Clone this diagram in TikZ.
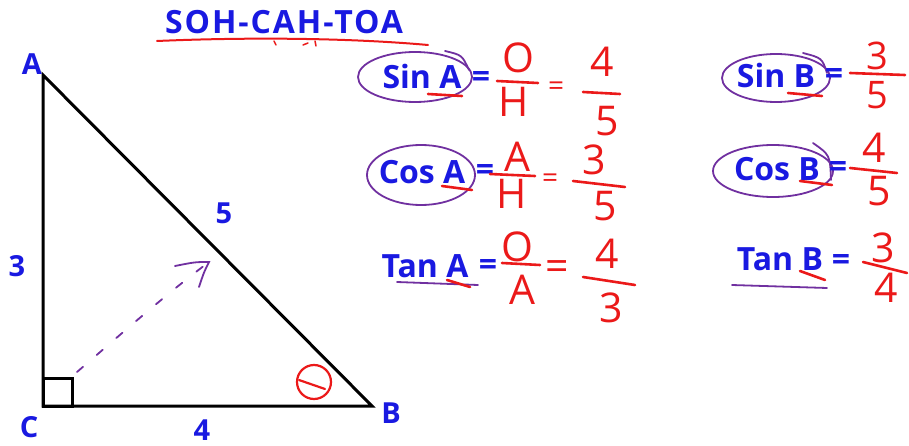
\documentclass[tikz,border=0pt]{standalone}
\usepackage{fontspec}
\setmainfont{Open Sans}
\usetikzlibrary{arrows.meta}
\definecolor{inkblue}{RGB}{25,25,225}
\definecolor{inkred}{RGB}{235,25,25}
\definecolor{inkpurple}{RGB}{112,48,160}
\tikzset{
  bluetxt/.style={text=inkblue, inner sep=0pt, font=\bfseries\fontsize{32}{32}\selectfont},
  vertex/.style={text=inkblue, inner sep=0pt, font=\bfseries\fontsize{29}{29}\selectfont},
  hand/.style={text=inkred, inner sep=0pt, font=\fontsize{41}{41}\selectfont},
  handeq/.style={text=inkred, inner sep=0pt, font=\fontsize{28}{28}\selectfont},
  redline/.style={draw=inkred, line width=2.6pt, line cap=round},
  ring/.style={draw=inkpurple, line width=1.8pt, line cap=round}
}

\begin{document}
\begin{tikzpicture}[x=1pt, y=-1pt]
  \useasboundingbox (0,0) rectangle (909,446);

  % title
  \node[bluetxt] (title) at (284,22) {\addfontfeature{LetterSpace=6}SOH-CAH-TOA};
  \draw[redline, line width=2pt] (157,41) .. controls (250,37) and (350,38) .. (428,45);
  \draw[redline, line width=1.5pt] (274,41) -- (276,45);
  \draw[redline, line width=1.5pt] (303,45) -- (308,43);
  \draw[redline, line width=1.5pt] (315,41) -- (316,46);

  % the triangle
  \coordinate (A) at (43,75);
  \coordinate (C) at (43,406);
  \coordinate (B) at (372,406);
  \draw[line width=3pt, line join=miter] (A) -- (C) -- (B) -- cycle;
  \draw[line width=3pt] (C) rectangle ++(29,-28);
  \node[vertex] (labA) at (32,64) {A};
  \node[vertex] (labC) at (29,427) {C};
  \node[vertex] (labB) at (391,413) {B};
  \node[vertex] (side3) at (17,266) {3};
  \node[vertex] (side4) at (202,430) {4};
  \node[vertex] (side5) at (224,213) {5};

  % dashed arrow towards the hypotenuse
  \coordinate (dashstart) at (77,372);
  \coordinate (dashtip) at (209,262);
  \draw[inkpurple, line width=1.8pt, line cap=round, dash pattern=on 8pt off 18pt]
    (dashstart) .. controls (120,335) and (165,295) .. (dashtip);
  \draw[ring] (175,266) .. controls (195,262) .. (dashtip) .. controls (204,272) .. (199,287);

  % angle theta at B
  \draw[redline, line width=2.2pt] (314,382) circle [radius=17];
  \draw[redline, line width=2.2pt] (299,380) -- (325,389);

  % sin A
  \node[bluetxt] (sinA) at (422,77) {Sin A};
  \draw[ring] (415,77) ellipse [x radius=57, y radius=25];
  \draw[ring] (445,51) .. controls (462,55) .. (469,70);
  \draw[redline] (428,94) -- (462,96);
  \node[bluetxt] (sinAeq) at (481,80) {=};
  \node[hand] (sinAo) at (518,58) {O};
  \draw[redline] (497,81) -- (538,83);
  \node[hand] (sinAh) at (514,102) {H};
  \node[handeq] (sinAeq2) at (556,89) {=};
  \node[hand] (sinA4) at (602,62) {4};
  \draw[redline] (583,92) -- (620,94);
  \node[hand] (sinA5) at (607,121) {5};

  % cos A
  \node[bluetxt] (cosA) at (422,172) {Cos A};
  \draw[ring] (421,175) ellipse [x radius=54, y radius=30];
  \draw[redline] (442,186) -- (472,190);
  \node[bluetxt] (cosAeq) at (485,173) {=};
  \node[hand] (cosAa) at (517,157) {A};
  \draw[redline] (490,174) -- (535,176);
  \node[hand] (cosAh) at (512,194) {H};
  \node[handeq] (cosAeq2) at (550,181) {=};
  \node[hand] (cosA3) at (594,160) {3};
  \draw[redline] (573,181) -- (625,187);
  \node[hand] (cosA5) at (605,206) {5};

  % tan A
  \node[bluetxt] (tanA) at (425,266) {Tan A};
  \draw[ring] (397,282) -- (478,285);
  \draw[redline] (447,280) -- (470,287);
  \node[bluetxt] (tanAeq) at (488,267) {=};
  \node[hand] (tanAo) at (517,247) {O};
  \draw[redline] (502,263) -- (540,265);
  \node[hand] (tanAa) at (522,290) {A};
  \node[hand] (tanAeq2) at (557,271) {=};
  \node[hand] (tanA4) at (607,254) {4};
  \draw[redline] (583,277) -- (635,285);
  \node[hand] (tanA3) at (611,308) {3};

  % sin B
  \node[bluetxt] (sinB) at (776,76) {Sin B};
  \draw[ring] (776,78) ellipse [x radius=54, y radius=24];
  \draw[ring] (803,53) .. controls (822,58) .. (827,73);
  \draw[redline] (788,93) -- (822,96);
  \node[bluetxt] (sinBeq) at (834,77) {=};
  \node[hand, font=\fontsize{38}{38}\selectfont] (sinB3) at (877,56) {3};
  \draw[redline] (850,73) -- (905,75);
  \node[hand, font=\fontsize{38}{38}\selectfont] (sinB5) at (877,95) {5};

  % cos B
  \node[bluetxt] (cosB) at (777,169) {Cos B};
  \draw[ring] (773,171) ellipse [x radius=60, y radius=26];
  \draw[ring] (813,143) .. controls (830,155) .. (831,180);
  \draw[redline] (800,181) -- (832,185);
  \node[bluetxt] (cosBeq) at (838,170) {=};
  \node[hand] (cosB4) at (874,148) {4};
  \draw[redline] (850,168) -- (897,173);
  \node[hand] (cosB5) at (879,191) {5};

  % tan B
  \node[bluetxt] (tanB) at (780,259) {Tan B};
  \draw[ring] (732,285) -- (827,288);
  \draw[redline] (800,271) -- (825,280);
  \node[bluetxt] (tanBeq) at (841,262) {=};
  \node[hand] (tanB3) at (883,248) {3};
  \draw[redline] (863,262) -- (907,273);
  \node[hand] (tanB4) at (886,288) {4};
\end{tikzpicture}
\end{document}
